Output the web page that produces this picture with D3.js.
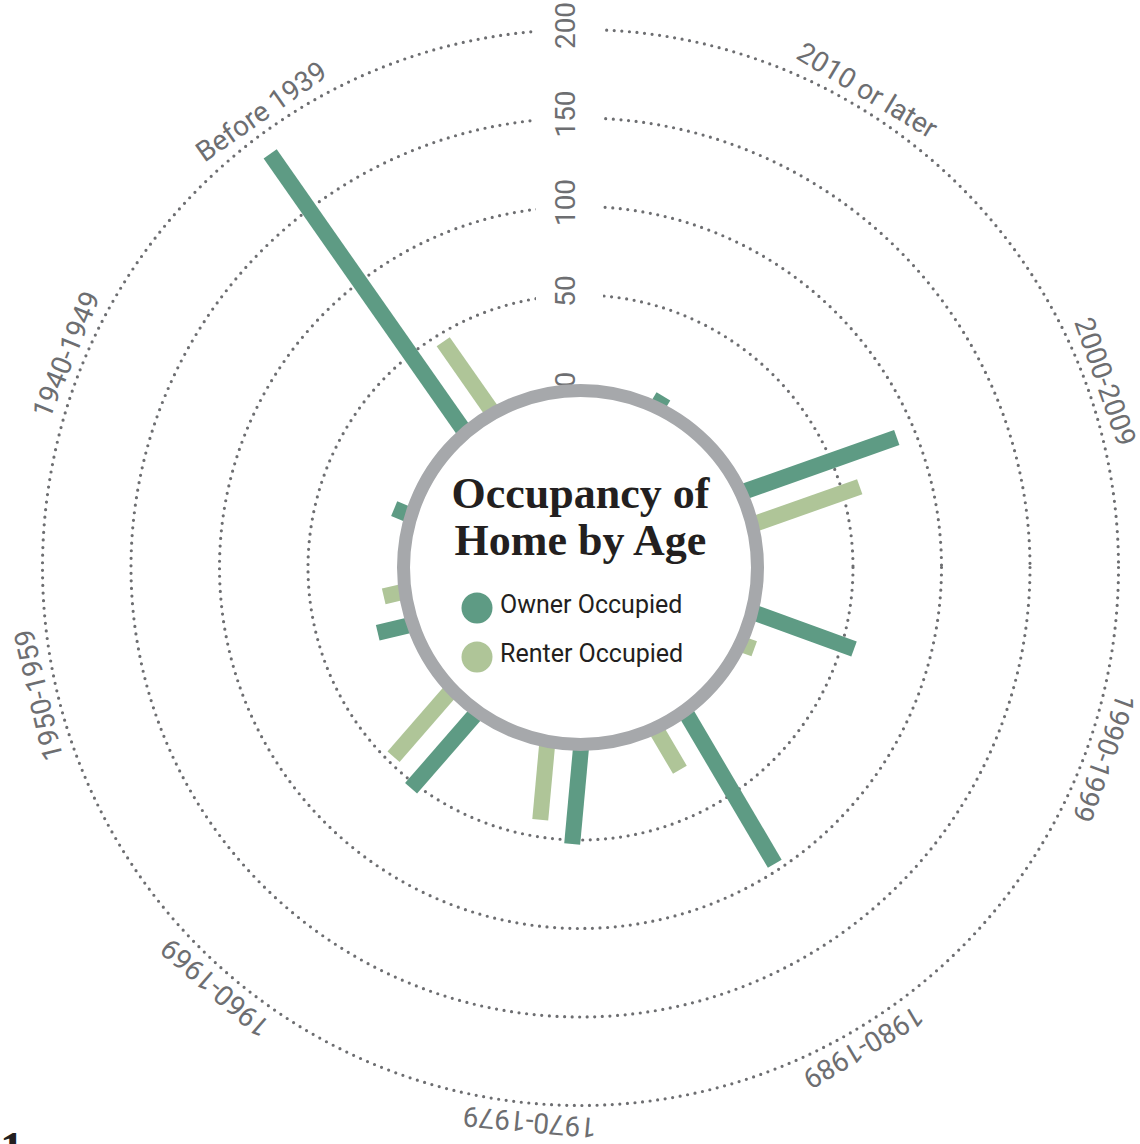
<!DOCTYPE html>
<html>
    <head>
        <title>Occupancy of Home by Age</title>
        <meta charset="UTF-8">
        <script type="text/javascript" src="https://cdn.jsdelivr.net/npm/d3@7"></script>
        <style type="text/css">
            body { margin: 0; background: #ffffff; }
            svg { display: block; }
        </style>
    </head>
    <body>
        <div id="chart"></div>

        <script type="text/javascript">
            // categories go clockwise, starting just right of the axis labels
            var categories = ["2010 or later", "2000-2009", "1990-1999", "1980-1989",
                "1970-1979", "1960-1969", "1950-1959", "1940-1949", "Before 1939"];
            var ownerValues = [3, 89, 57, 96, 52, 53, 16, 6, 188];
            var renterValues = [0, 60, 4, 23, 40, 46, 8, 0, 45];
            var seriesNames = ["Owner Occupied", "Renter Occupied"];
            var seriesColors = ["#5e9b84", "#afc598"];
            var radialTicks = [0, 50, 100, 150, 200];
            var titleLines = ["Occupancy of", "Home by Age"];

            var svgW = 1140;
            var svgH = 1144;
            var cx = 580.5;     // center of the rings
            var cy = 567.5;
            var ringR = 177;    // grey ring in the middle
            var barBase = 168;  // bars start under the ring
            var labelR = 557;
            var grey = "#6d6e71";

            var rows = categories.map(function (c, i) {
                return {cat: c, idx: i, values: [
                        {name: seriesNames[0], v: ownerValues[i]},
                        {name: seriesNames[1], v: renterValues[i]}
                    ]};
            });

            // the spokes are not quite evenly spread in the original,
            // so the angle scale is polylinear over the category index
            var angle = d3.scaleLinear()
                    .domain([0, 1, 3, 7, categories.length - 1])
                    .range([31, 70.5, 149.5, 292.5, 325]);

            var x1 = d3.scaleBand()
                    .domain(seriesNames)
                    .range([-25, 25])
                    .paddingInner(0.53);

            var r = d3.scaleLinear()
                    .domain([0, 200])
                    .range([184, 538]);

            var color = d3.scaleOrdinal()
                    .domain(seriesNames)
                    .range(seriesColors);

            var svg = d3.select("#chart").append("svg")
                    .attr("width", svgW)
                    .attr("height", svgH);

            svg.append("rect")
                    .attr("width", svgW)
                    .attr("height", svgH)
                    .attr("fill", "#ffffff");

            // dotted grid circles
            svg.append("g").selectAll("circle")
                    .data(radialTicks.filter(function (t) {
                        return t > 0;
                    }))
                    .enter()
                    .append("circle")
                    .attr("cx", cx)
                    .attr("cy", cy)
                    .attr("r", function (d) {
                        return r(d);
                    })
                    .attr("fill", "none")
                    .attr("stroke", grey)
                    .attr("stroke-width", 3.2)
                    .attr("stroke-linecap", "round")
                    .attr("stroke-dasharray", "0 7.6");

            // gap in the circles for the axis numbers
            svg.append("rect")
                    .attr("x", 536)
                    .attr("y", 0)
                    .attr("width", 67)
                    .attr("height", 330)
                    .attr("fill", "#ffffff");

            svg.append("g").selectAll("text")
                    .data(radialTicks)
                    .enter()
                    .append("text")
                    .attr("transform", function (d) {
                        return "translate(575," + (cy - r(d) - 4) + ") rotate(-90)";
                    })
                    .attr("text-anchor", "middle")
                    .style("font-family", "Roboto, sans-serif")
                    .style("font-size", "28px")
                    .attr("fill", grey)
                    .text(function (d) {
                        return d;
                    });

            // bars, one rotated group per category
            var groups = svg.append("g").selectAll("g")
                    .data(rows)
                    .enter()
                    .append("g")
                    .attr("transform", function (d) {
                        return "translate(" + cx + "," + cy + ") rotate(" + angle(d.idx) + ")";
                    });

            groups.selectAll("rect")
                    .data(function (d) {
                        return d.values.filter(function (e) {
                            return e.v > 0;
                        });
                    })
                    .enter()
                    .append("rect")
                    .attr("x", function (d) {
                        return x1(d.name);
                    })
                    .attr("width", x1.bandwidth())
                    .attr("y", function (d) {
                        return -r(d.v);
                    })
                    .attr("height", function (d) {
                        return r(d.v) - barBase;
                    })
                    .attr("fill", function (d) {
                        return color(d.name);
                    });

            groups.append("text")
                    .attr("y", -labelR)
                    .attr("dy", "0.35em")
                    .attr("text-anchor", "middle")
                    .style("font-family", "Roboto, sans-serif")
                    .style("font-size", "28px")
                    .attr("fill", grey)
                    .text(function (d) {
                        return d.cat;
                    });

            // center ring
            svg.append("circle")
                    .attr("cx", cx)
                    .attr("cy", cy)
                    .attr("r", ringR)
                    .attr("fill", "#ffffff")
                    .attr("stroke", "#a6a8ab")
                    .attr("stroke-width", 13);

            svg.append("g").selectAll("text")
                    .data(titleLines)
                    .enter()
                    .append("text")
                    .attr("x", cx)
                    .attr("y", function (d, i) {
                        return 508 + i * 47;
                    })
                    .attr("text-anchor", "middle")
                    .style("font-family", "'Liberation Serif', 'DejaVu Serif', serif")
                    .style("font-weight", "bold")
                    .style("font-size", "44px")
                    .attr("fill", "#231f20")
                    .text(function (d) {
                        return d;
                    });

            var legend = svg.append("g").selectAll("g")
                    .data(seriesNames)
                    .enter()
                    .append("g")
                    .attr("transform", function (d, i) {
                        return "translate(477," + (608 + i * 49) + ")";
                    });

            legend.append("circle")
                    .attr("r", 15.5)
                    .attr("fill", function (d) {
                        return color(d);
                    });

            legend.append("text")
                    .attr("x", 23)
                    .attr("y", 5)
                    .style("font-family", "Roboto, sans-serif")
                    .style("font-size", "25px")
                    .attr("fill", "#231f20")
                    .text(function (d) {
                        return d;
                    });

            // cut-off glyph in the bottom left corner
            svg.append("text")
                    .attr("x", 0)
                    .attr("y", 1165)
                    .style("font-family", "'Liberation Serif', serif")
                    .style("font-weight", "bold")
                    .style("font-size", "48px")
                    .attr("fill", "#231f20")
                    .text("1");
        </script>
    </body>
</html>
